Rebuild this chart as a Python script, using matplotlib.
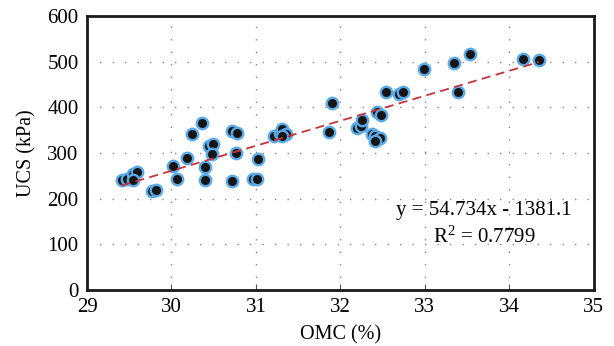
import matplotlib
matplotlib.use("Agg")
import matplotlib.pyplot as plt
import numpy as np

omc = [29.41, 29.47, 29.54, 29.59, 29.54, 29.77, 29.82, 30.02, 30.06, 30.18,
       30.24, 30.36, 30.40, 30.40, 30.44, 30.49, 30.48, 30.72, 30.78, 30.76,
       30.72, 30.96, 31.01, 31.03, 31.21, 31.28, 31.31, 31.36, 31.31, 31.86,
       31.90, 32.20, 32.25, 32.26, 32.37, 32.41, 32.47, 32.41, 32.43, 32.48,
       32.54, 32.70, 32.74, 32.99, 33.34, 33.39, 33.53, 34.16, 34.35]
ucs = [241, 244, 254, 258, 241, 216, 219, 272, 243, 288,
       341, 366, 270, 241, 315, 319, 297, 347, 343, 300,
       239, 242, 242, 286, 337, 343, 352, 342, 338, 345,
       409, 355, 359, 372, 342, 336, 332, 327, 390, 384,
       433, 430, 434, 484, 496, 434, 517, 506, 504]
slope = 54.734
intercept = -1381.1
r2 = 0.7799
xticks = [29, 30, 31, 32, 33, 34, 35]
yticks = [0, 100, 200, 300, 400, 500, 600]

plt.rcParams['font.family'] = ['Liberation Serif', 'DejaVu Serif']
plt.rcParams['mathtext.fontset'] = 'custom'
plt.rcParams['mathtext.rm'] = 'Liberation Serif'
plt.rcParams['mathtext.it'] = 'Liberation Serif:italic'

fig = plt.figure(figsize=(6.14, 3.46), dpi=100)
ax = fig.add_axes([0.1417, 0.162, 0.8253, 0.792])

ax.set_xlim(29, 35)
ax.set_ylim(0, 600)
ax.set_xticks(xticks)
ax.set_yticks(yticks)
ax.tick_params(axis='both', labelsize=15, direction='in', length=4, width=0.8, color='#555555')
ax.tick_params(axis='y', length=0, pad=6)
ax.tick_params(axis='x', pad=6)

ax.grid(True, color='#888888', linestyle=(0, (1, 8)), linewidth=1.0)
ax.set_axisbelow(True)

for s in ax.spines.values():
    s.set_linewidth(2)
    s.set_color('#1a1a1a')

ax.scatter(omc, ucs, s=68, c='#151515', edgecolors='#5aaae8', linewidths=1.7, zorder=3)

xs = np.array([min(omc), max(omc)])
ax.plot(xs, slope * xs + intercept, color='#c8343c', linestyle=(0, (5, 3)), linewidth=1.3, zorder=4)

ax.text(33.70, 175, f"y = {slope}x - {-intercept}", fontsize=15, ha='center', va='center')
ax.text(33.70, 116, "R$^{\\mathrm{2}}$" + f" = {r2}", fontsize=15, ha='center', va='center')

ax.set_xlabel("OMC (%)", fontsize=14.5, labelpad=6)
ax.set_ylabel("UCS (kPa)", fontsize=14.5, labelpad=8)

fig.savefig("out.png", dpi=100)
